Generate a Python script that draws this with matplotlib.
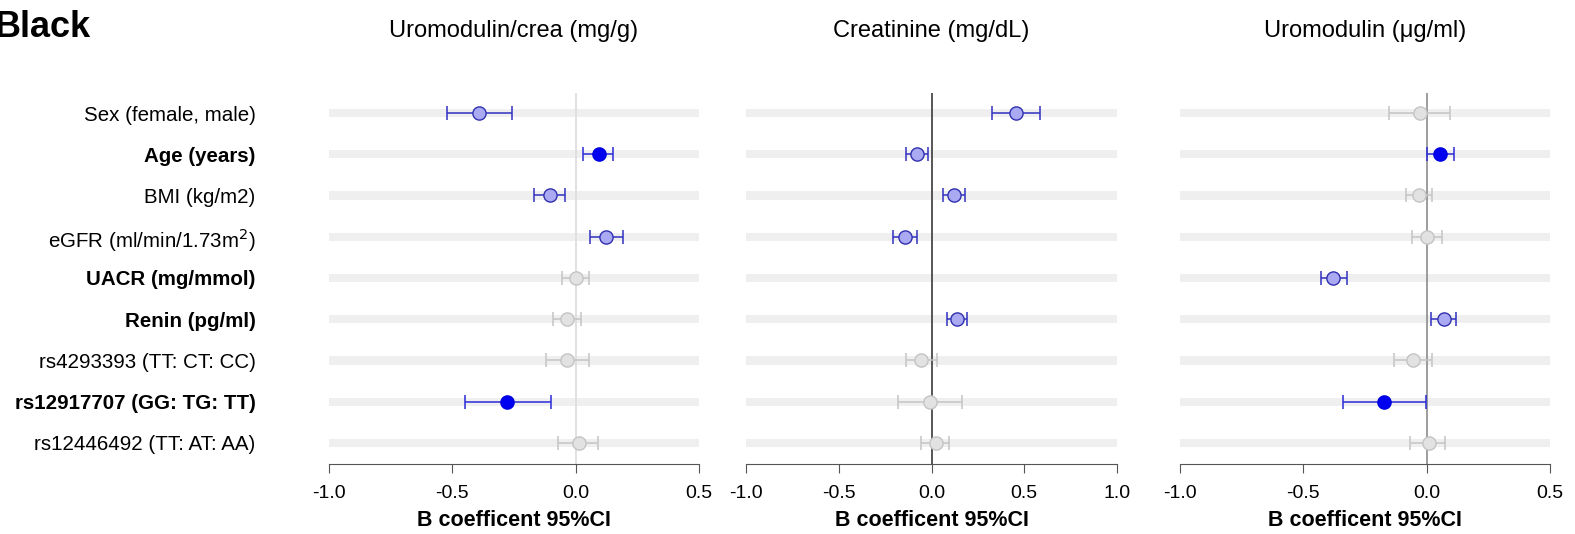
import numpy as np
import matplotlib
matplotlib.use('Agg')
import matplotlib.pyplot as plt

plt.rcParams['font.family'] = ['Liberation Sans', 'DejaVu Sans']
plt.rcParams['axes.unicode_minus'] = False

# Row labels (top to bottom) and which ones are bold
labels = ['Sex (female, male)', 'Age (years)', 'BMI (kg/m2)', 'eGFR (ml/min/1.73m$^2$)',
          'UACR (mg/mmol)', 'Renin (pg/ml)', 'rs4293393 (TT: CT: CC)',
          'rs12917707 (GG: TG: TT)', 'rs12446492 (TT: AT: AA)']
bold_rows = [False, True, False, False, True, True, False, True, False]

titles = ['Uromodulin/crea (mg/g)', 'Creatinine (mg/dL)', 'Uromodulin (\u03bcg/ml)']
xlims = [(-1.0, 0.5), (-1.0, 1.0), (-1.0, 0.5)]

# B coefficients and 95% CI (nan = not reported)
crea_b = [-0.39, 0.095, -0.105, 0.123, 0.0, -0.035, -0.035, -0.277, 0.012]
crea_lo = [-0.52, 0.03, -0.17, 0.06, -0.055, -0.09, -0.12, -0.45, -0.07]
crea_hi = [-0.26, 0.15, -0.045, 0.19, 0.055, 0.02, 0.055, -0.10, 0.09]
crea_sig = [1, 2, 1, 1, 0, 0, 0, 2, 0]

creat_b = [0.455, -0.077, 0.12, -0.144, np.nan, 0.14, -0.056, -0.009, 0.022]
creat_lo = [0.328, -0.137, 0.061, -0.207, np.nan, 0.085, -0.14, -0.182, -0.056]
creat_hi = [0.585, -0.02, 0.178, -0.079, np.nan, 0.194, 0.029, 0.166, 0.097]
creat_sig = [1, 1, 1, 1, 0, 1, 0, 0, 0]

umod_b = [-0.028, 0.055, -0.031, 0.001, -0.379, 0.072, -0.055, -0.172, 0.008]
umod_lo = [-0.153, 0.001, -0.085, -0.061, -0.428, 0.019, -0.134, -0.338, -0.068]
umod_hi = [0.093, 0.112, 0.023, 0.062, -0.325, 0.119, 0.023, -0.004, 0.076]
umod_sig = [0, 2, 0, 0, 1, 1, 0, 2, 0]

panels = [(crea_b, crea_lo, crea_hi, crea_sig),
          (creat_b, creat_lo, creat_hi, creat_sig),
          (umod_b, umod_lo, umod_hi, umod_sig)]
zero_colors = ['#dcdcdc', '#3a3a3a', '#8c8c8c']

# 0 = not significant, 1 = significant, 2 = strongly significant
face = {0: '#e2e2e2', 1: '#aaaaf2', 2: '#0000f0'}
edge = {0: '#c4c4c4', 1: '#3030b0', 2: '#0000e0'}
barc = {0: '#c4c4c4', 1: '#3030c0', 2: '#2a2ad8'}

fig = plt.figure(figsize=(15.75, 5.34), dpi=100)
lefts = [329, 746, 1180]
rights = [699, 1117, 1550]
rows = np.arange(len(labels))

for i, (b, lo, hi, sig) in enumerate(panels):
    ax = fig.add_axes([lefts[i] / 1575, 1 - 464 / 534,
                       (rights[i] - lefts[i]) / 1575, (464 - 93) / 534])
    xmin, xmax = xlims[i]
    ax.barh(rows, xmax - xmin, left=xmin, height=0.2, color='#efefef', zorder=0)
    ax.axvline(0, color=zero_colors[i], lw=1.2, zorder=1)
    b = np.array(b); lo = np.array(lo); hi = np.array(hi)
    for r in rows:
        if np.isnan(b[r]):
            continue
        s = sig[r]
        ax.errorbar(b[r], r, xerr=[[b[r] - lo[r]], [hi[r] - b[r]]], fmt='none',
                    ecolor=barc[s], elinewidth=1.1, capsize=4.7, capthick=1.1, zorder=2)
        ax.plot(b[r], r, 'o', ms=9.5, mfc=face[s], mec=edge[s], mew=1, zorder=3)
    ax.set_xlim(xmin, xmax)
    ax.set_ylim(8.51, -0.485)
    ticks = np.arange(xmin, xmax + 0.01, 0.5)
    ax.set_xticks(ticks)
    ax.set_xticklabels(['%.1f' % v for v in ticks])
    for sp in ['top', 'right', 'left']:
        ax.spines[sp].set_visible(False)
    ax.spines['bottom'].set_color('#555555')
    ax.tick_params(axis='x', length=6.8, color='#555555', labelsize=14, pad=8)
    ax.set_xlabel('B coefficent 95%CI', fontsize=15.5, fontweight='bold', labelpad=6)
    ax.set_title(titles[i], fontsize=17, pad=40)
    if i == 0:
        ax.set_yticks(rows)
        ax.set_yticklabels(labels, fontsize=14.8)
        for t, bb in zip(ax.get_yticklabels(), bold_rows):
            if bb:
                t.set_fontweight('bold')
        ax.tick_params(axis='y', length=0, pad=53)
    else:
        ax.set_yticks([])

fig.text(91 / 1575, 0.949, 'Black', fontsize=26, fontweight='bold', va='center', ha='right')

fig.savefig('out.png', dpi=100)
